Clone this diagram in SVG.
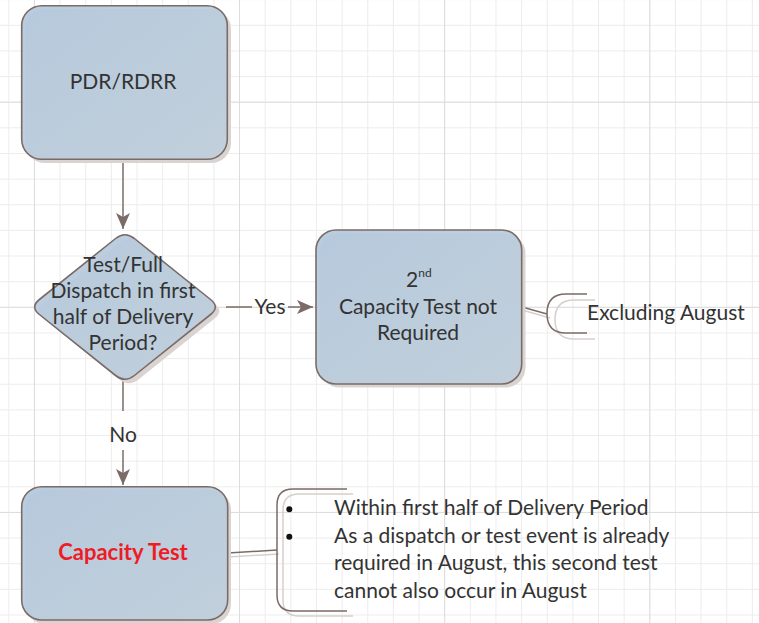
<svg xmlns="http://www.w3.org/2000/svg" width="759" height="623" viewBox="0 0 759 623">
<defs>
<pattern id="minor" patternUnits="userSpaceOnUse" x="8.3" y="-0.86" width="25.64" height="25.64">
<path d="M0.5,0 V25.64 M0,0.5 H25.64" stroke="#ececec" stroke-width="1" fill="none"/>
</pattern>
<pattern id="major" patternUnits="userSpaceOnUse" x="33.9" y="101.7" width="205.12" height="205.12">
<path d="M0.5,0 V205.12 M0,0.5 H205.12" stroke="#dcdcdc" stroke-width="1" fill="none"/>
</pattern>
<linearGradient id="fill" x1="0" y1="0" x2="1" y2="1">
<stop offset="0" stop-color="#b3c8dd"/>
<stop offset="1" stop-color="#bfcfdc"/>
</linearGradient>
<marker id="arr" markerUnits="userSpaceOnUse" markerWidth="16" markerHeight="16" refX="16" refY="8" orient="auto">
<path d="M0,1 L16,8 L0,15 L4,8 Z" fill="#7b6b66"/>
</marker>
<style>
.box{fill:url(#fill);fill-opacity:0.92;stroke:#7b6b66;stroke-width:1.6}
.shadow{fill:#d9d4d2}
.t{font-family:Lato,"Open Sans",sans-serif;font-size:21px;fill:#333333}
.c{text-anchor:middle}
.con{stroke:#7b6b66;stroke-width:1.5;fill:none}
.conS{stroke:#d6d0cd;stroke-width:1.5;fill:none}
</style>
</defs>
<rect width="759" height="623" fill="#ffffff"/>
<rect width="759" height="623" fill="url(#minor)"/>
<rect width="759" height="623" fill="url(#major)"/>

<g id="connectors">
<line class="con" x1="123" y1="160" x2="123" y2="229" marker-end="url(#arr)"/>
<line class="con" x1="226" y1="307" x2="252" y2="307"/>
<line class="con" x1="288" y1="307" x2="313" y2="307" marker-end="url(#arr)"/>
<text class="t c" x="270" y="314">Yes</text>
<line class="con" x1="123" y1="380" x2="123" y2="411"/>
<text class="t c" x="123" y="442">No</text>
<line class="con" x1="123" y1="450" x2="123" y2="485" marker-end="url(#arr)"/>
<line class="conS" x1="522" y1="310" x2="550" y2="318"/>
<line class="con" x1="522" y1="307" x2="547" y2="314"/>
<line class="conS" x1="228" y1="557" x2="279" y2="554"/>
<line class="con" x1="228" y1="553" x2="277" y2="550"/>
</g>

<g id="pdr">
<rect class="shadow" x="25" y="9" width="206" height="154" rx="20"/>
<rect class="box" x="21.7" y="5.7" width="205.6" height="153.6" rx="20"/>
<text class="t c" x="123" y="89">PDR/RDRR</text>
</g>

<g id="decision">
<path class="shadow" transform="translate(4,4)" d="M134.4,238.5 L210.6,299.5 Q220,307 210.6,314.5 L134.4,375.5 Q125,383 115.6,375.5 L39.4,314.5 Q30,307 39.4,299.5 L115.6,238.5 Q125,231 134.4,238.5 Z"/>
<path class="box" d="M134.4,238.5 L210.6,299.5 Q220,307 210.6,314.5 L134.4,375.5 Q125,383 115.6,375.5 L39.4,314.5 Q30,307 39.4,299.5 L115.6,238.5 Q125,231 134.4,238.5 Z"/>
<text class="t c" x="123" y="272">Test/Full</text>
<text class="t c" x="123" y="298">Dispatch in first</text>
<text class="t c" x="123" y="324">half of Delivery</text>
<text class="t c" x="123" y="350">Period?</text>
</g>

<g id="notrequired">
<rect class="shadow" x="319.5" y="233.5" width="206" height="154" rx="20"/>
<rect class="box" x="316" y="230" width="205.7" height="154" rx="20"/>
<text class="t" x="406" y="287">2<tspan font-size="12" dy="-10">nd</tspan></text>
<text class="t c" x="418" y="314">Capacity Test not</text>
<text class="t c" x="418" y="340">Required</text>
</g>

<g id="note1">
<path class="conS" transform="translate(8,6)" d="M587,294 L566,294 Q547,294 547,313.5 Q547,333 566,333 L587,333"/>
<path class="con" d="M587,294 L566,294 Q547,294 547,313.5 Q547,333 566,333 L587,333"/>
<text class="t" x="587" y="320">Excluding August</text>
</g>

<g id="capacitytest">
<rect class="shadow" x="25" y="490" width="206" height="134" rx="20"/>
<rect class="box" x="21.7" y="486.7" width="206" height="133.3" rx="20"/>
<text class="t c" x="123" y="560" style="fill:#ee1c25;font-weight:bold;font-size:22px">Capacity Test</text>
</g>

<g id="note2">
<path class="conS" transform="translate(6,5)" d="M347,489 L293,489 Q277,489 277,505 L277,595 Q277,611 293,611 L347,611"/>
<path class="con" d="M347,489 L293,489 Q277,489 277,505 L277,595 Q277,611 293,611 L347,611"/>
<circle cx="289.3" cy="509.3" r="3" fill="#111"/>
<circle cx="289.3" cy="536.7" r="3" fill="#111"/>
<text class="t" x="334" y="515">Within first half of Delivery Period</text>
<text class="t" x="334" y="542.5">As a dispatch or test event is already</text>
<text class="t" x="334" y="570">required in August, this second test</text>
<text class="t" x="334" y="597.5">cannot also occur in August</text>
</g>
</svg>
